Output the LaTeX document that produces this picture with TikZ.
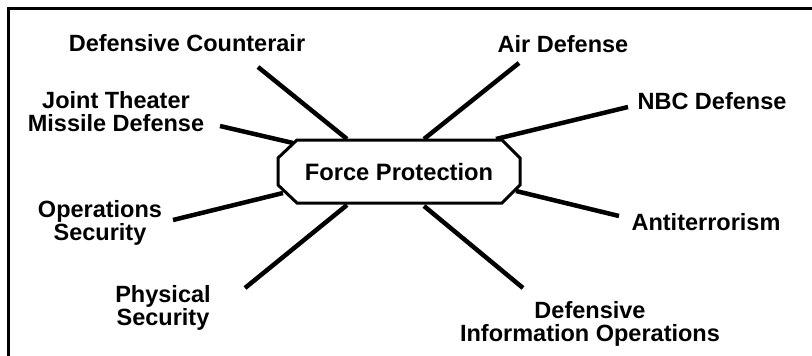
\documentclass[tikz,border=0pt]{standalone}
\usepackage{fontspec}
\setmainfont{Liberation Sans}
\begin{document}
\begin{tikzpicture}[x=1pt,y=-1pt,
  lbl/.style={font=\fontsize{23.5}{23}\selectfont\bfseries, align=center, inner sep=0pt},
  spoke/.style={line width=4.5pt},
  frame/.style={line width=3pt}]
\useasboundingbox (0,0) rectangle (812,356);
\draw[frame] (8.5,356) -- (8.5,8.5) -- (812,8.5);
% octagon
\draw[line width=3pt, line join=miter]
  (297,140) -- (502,140) -- (520,158) -- (520,185) -- (502,203) -- (297,203) -- (278,185) -- (278,158) -- cycle;
\node[lbl, font=\fontsize{23.7}{23}\selectfont\bfseries] (fp) at (399,172) {Force Protection};
% labels
\node[lbl] (dca) at (187,43) {Defensive Counterair};
\node[lbl] (jtmd) at (116,112) {Joint Theater\\Missile Defense};
\node[lbl] (ad) at (563,44) {Air Defense};
\node[lbl] (nbc) at (712,101) {NBC Defense};
\node[lbl] (ops) at (100,223) {Operations\\Security};
\node[lbl] (phys) at (163,308) {Physical\\Security};
\node[lbl] (at) at (706,222) {Antiterrorism};
\node[lbl] (dio) at (590,324) {Defensive\\Information Operations};
% spoke endpoints
\coordinate (c1a) at (258,67);  \coordinate (c1b) at (347,139);
\coordinate (c2a) at (220,126); \coordinate (c2b) at (293,143);
\coordinate (c3a) at (519,63);  \coordinate (c3b) at (424,139);
\coordinate (c4a) at (628,107); \coordinate (c4b) at (496,139);
\coordinate (c5a) at (173,220); \coordinate (c5b) at (283,193);
\coordinate (c6a) at (245,288); \coordinate (c6b) at (347,205);
\coordinate (c7a) at (619,216); \coordinate (c7b) at (516,191);
\coordinate (c8a) at (523,288); \coordinate (c8b) at (424,206);
\draw[spoke] (c1a) -- (c1b);
\draw[spoke] (c2a) -- (c2b);
\draw[spoke] (c3a) -- (c3b);
\draw[spoke] (c4a) -- (c4b);
\draw[spoke] (c5a) -- (c5b);
\draw[spoke] (c6a) -- (c6b);
\draw[spoke] (c7a) -- (c7b);
\draw[spoke] (c8a) -- (c8b);
\end{tikzpicture}
\end{document}
